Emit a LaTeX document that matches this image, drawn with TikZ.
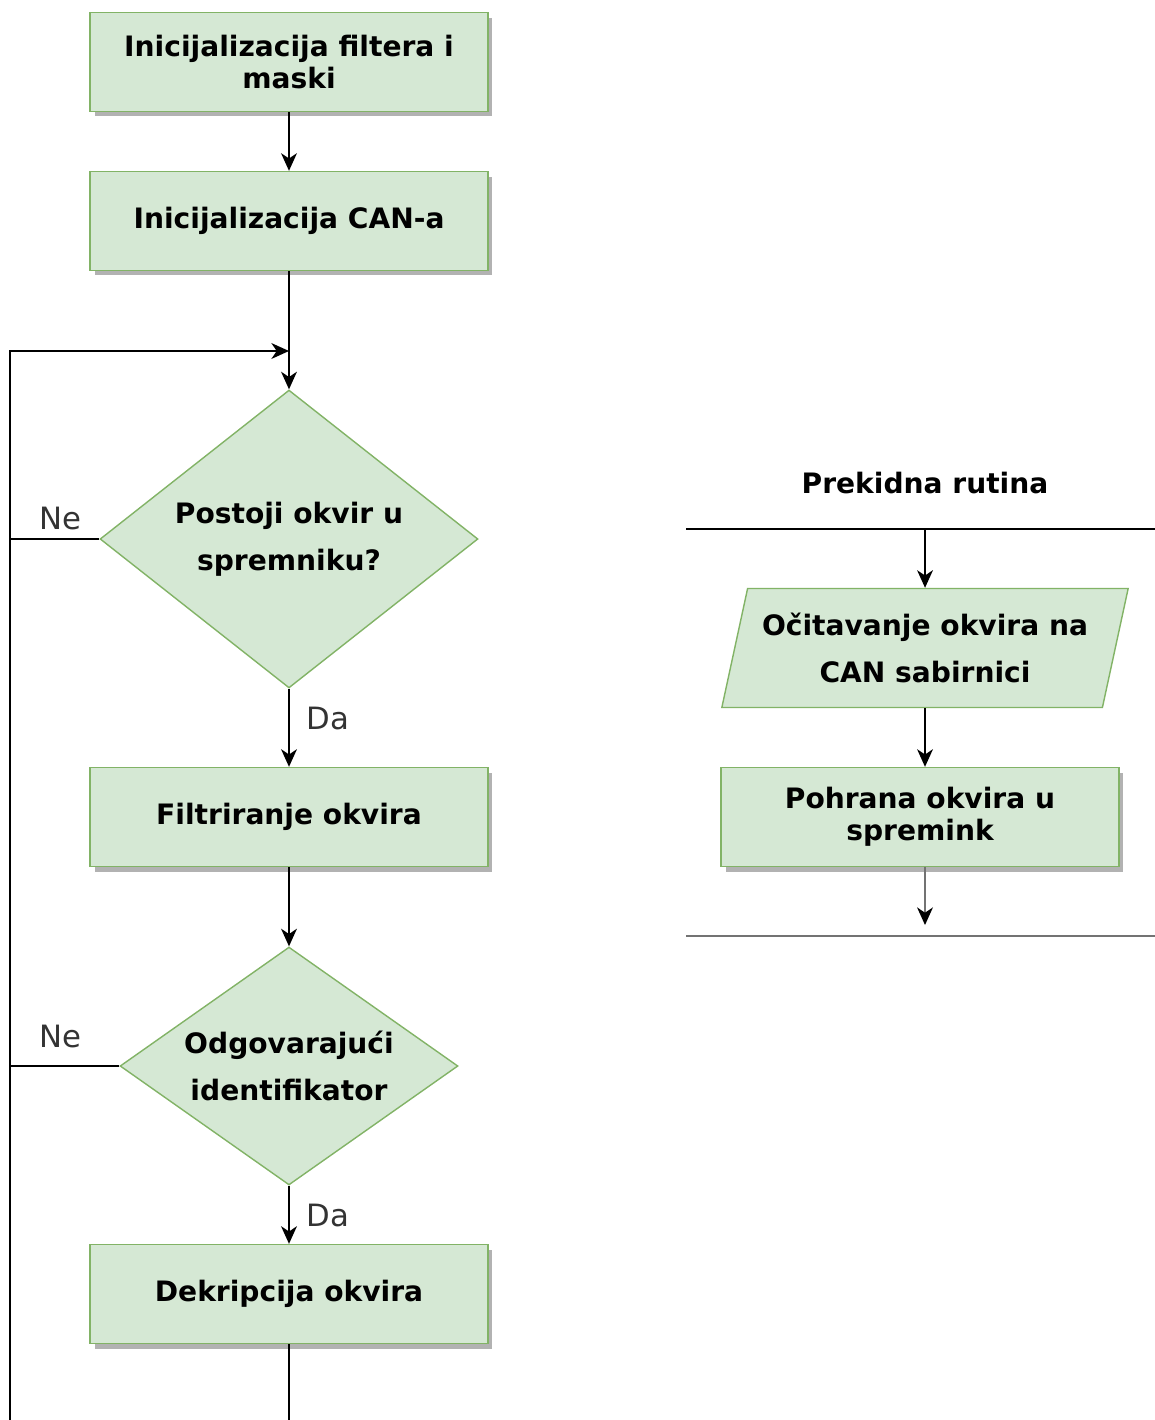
\documentclass[tikz,border=0pt]{standalone}
\usepackage{fontspec}
\setmainfont{DejaVu Sans}
\usetikzlibrary{arrows.meta,positioning,shapes.geometric,shadows}
\definecolor{boxfill}{HTML}{D5E8D4}
\definecolor{boxline}{HTML}{82B366}
\definecolor{labelgray}{HTML}{333333}
\tikzset{
  korak/.style={rectangle, draw=boxline, fill=boxfill, line width=0.8pt,
    minimum width=7.96cm, minimum height=1.98cm, inner sep=0pt, align=center,
    font=\fontsize{16}{18}\selectfont\bfseries,
    drop shadow={shadow xshift=0.09cm, shadow yshift=-0.1cm, fill=black!30, opacity=1}},
  odluka/.style={diamond, draw=boxline, fill=boxfill, line width=0.8pt,
    inner sep=0pt, align=center, font=\fontsize{16}{27}\selectfont\bfseries},
  ulaz/.style={trapezium, trapezium left angle=71.4, trapezium right angle=108.6,
    trapezium stretches=true, draw=boxline, fill=boxfill, line width=0.8pt,
    minimum width=8.14cm, minimum height=2.38cm, inner sep=0pt, align=center,
    font=\fontsize{16}{27}\selectfont\bfseries},
  oznaka/.style={font=\fontsize{17.5}{20}\selectfont, text=labelgray},
  veza/.style={line width=1pt, -{Stealth[length=10pt,width=9pt,inset=3pt]}}
}

\begin{document}
\begin{tikzpicture}[x=0.02cm, y=-0.02cm]
    \useasboundingbox (0,0) rectangle (1155,1420);
    \def\xl{289}
    \def\xr{925}
    % Main loop
    \node[korak] (init) at (\xl,62) {Inicijalizacija filtera i\\maski};
    \node[korak] (can) at (\xl,221) {Inicijalizacija CAN-a};
    \node[odluka, aspect=1.27, minimum width=7.56cm, minimum height=5.96cm] (ima) at (\xl,539) {Postoji okvir u\\spremniku?};
    \node[korak] (filt) at (\xl,817) {Filtriranje okvira};
    \node[odluka, aspect=1.42, minimum width=6.76cm, minimum height=4.76cm] (id) at (\xl,1066) {Odgovarajući\\identifikator};
    \node[korak] (dek) at (\xl,1294) {Dekripcija okvira};

    \coordinate (povrat) at (\xl,351);
    \coordinate (dnoL) at (10,1420);
    \coordinate (dnoS) at (\xl,1420);
    \coordinate (ne1) at (10,539);
    \coordinate (ne2) at (10,1066);

    \draw[veza] (init) -- (can);
    \draw[veza] (can) -- (ima);
    \draw[veza] (ima) -- (filt);
    \draw[veza] (filt) -- (id);
    \draw[veza] (id) -- (dek);
    \draw[line width=1pt] (dek) -- (dnoS);
    \draw[veza] (dnoL) |- (povrat);
    \draw[line width=1pt] (ima.west) -- (ne1);
    \draw[line width=1pt] (id.west) -- (ne2);

    % Labels
    \node[oznaka] (ne1txt) at (60,519) {Ne};
    \node[oznaka] (ne2txt) at (60,1036) {Ne};
    \node[oznaka] (da1txt) at (328,718) {Da};
    \node[oznaka] (da2txt) at (328,1215) {Da};

    % Interrupt routine
    \node[font=\fontsize{16}{18}\selectfont\bfseries] (naslov) at (\xr,483) {Prekidna rutina};
    \coordinate (gL) at (686,529);
    \coordinate (gR) at (1155,529);
    \coordinate (gS) at (\xr,529);
    \coordinate (dL) at (686,936);
    \coordinate (dR) at (1155,936);
    \coordinate (dS) at (\xr,925);
    \node[ulaz] (citaj) at (\xr,648) {Očitavanje okvira na\\CAN sabirnici};
    \node[korak] (pohrana) at (920,817) {Pohrana okvira u\\spremink};

    \draw[line width=1pt] (gL) -- (gR);
    \draw[line width=1pt, black!55] (dL) -- (dR);
    \draw[veza] (gS) -- (citaj);
    \draw[veza] (citaj) -- (pohrana.north -| citaj);
    \draw[veza, black!55, -{Stealth[length=10pt,width=9pt,inset=3pt,black]}] (pohrana.south -| citaj) -- (dS);
\end{tikzpicture}
\end{document}
